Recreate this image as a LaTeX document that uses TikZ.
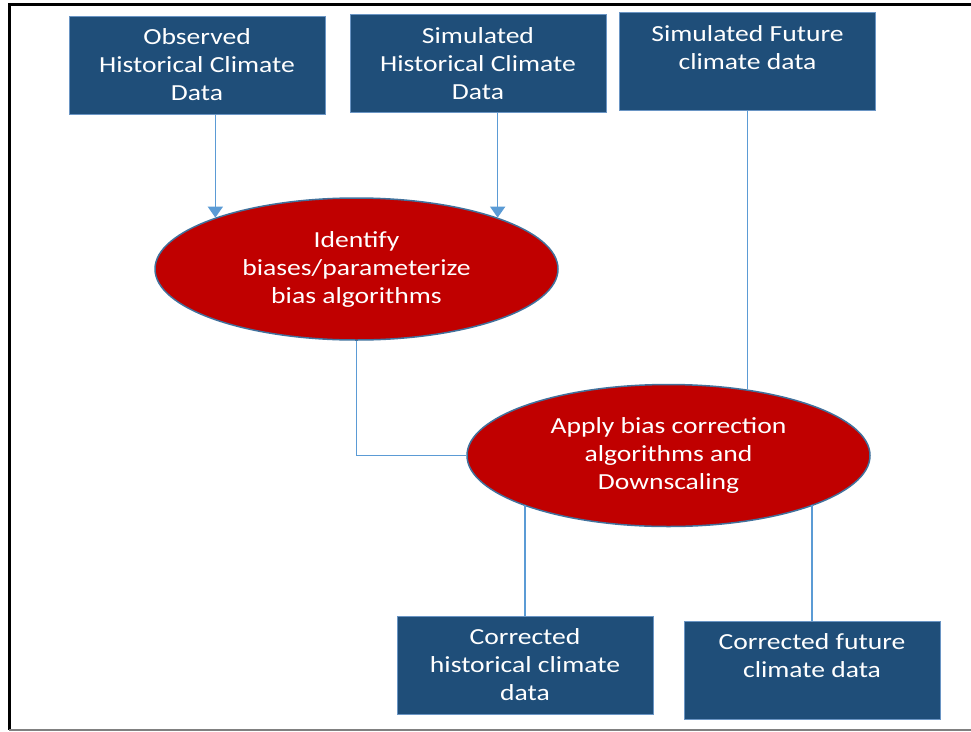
\documentclass[tikz,border=0pt]{standalone}
\usepackage{fontspec}
\setmainfont{Carlito}[FakeStretch=1.2]
\usetikzlibrary{shapes.geometric,arrows.meta}
\definecolor{boxblue}{HTML}{1F4E79}
\definecolor{boxedge}{HTML}{6A95C4}
\definecolor{blobred}{HTML}{C00000}
\definecolor{blobedge}{HTML}{41719C}
\definecolor{linkblue}{HTML}{5B9BD5}
\begin{document}
\begin{tikzpicture}[x=1pt,y=-1pt,font=\fontsize{23}{28}\selectfont,
    box/.style={rectangle,fill=boxblue,draw=boxedge,line width=1pt,minimum width=256pt,minimum height=98pt,inner sep=0pt,text=white,align=center,execute at begin node=\rule{0pt}{27pt}},
    blob/.style={ellipse,fill=blobred,draw=blobedge,line width=1.5pt,minimum width=403pt,minimum height=142pt,inner sep=0pt,text=white,align=center},
    link/.style={draw=linkblue,line width=1.6pt},
    tip/.style={-{Triangle[width=15pt,length=11pt]}}]
    \useasboundingbox (0,0) rectangle (971,731);
    % frame
    \draw[line width=3pt] (971,4) -- (9,4) -- (9,730);
    \draw[gray,line width=2pt] (9,730) -- (971,730);
    % inputs
    \node[box] (obs) at (197,65) {Observed\\Historical Climate\\Data};
    \node[box] (simhist) at (478,63.5) {Simulated\\Historical Climate\\Data};
    \node[box] (simfut) at (747.5,61.5) {Simulated Future\\climate data\\\mbox{}};
    % processing
    \node[blob] (ident) at (356.5,269) {Identify\\biases/parameterize\\bias algorithms};
    \node[blob] (apply) at (668.5,455.5) {Apply bias correction\\algorithms and\\Downscaling};
    % outputs
    \node[box] (corrhist) at (525,665) {Corrected\\historical climate\\data};
    \node[box] (corrfut) at (812,670) {Corrected future\\climate data\\\mbox{}};
    \path
      (ident.160 |- obs.south) edge [link,tip] (ident.160)
      (ident.20 |- simhist.south) edge [link,tip] (ident.20)
      (simfut.south) edge [link] (simfut.south |- apply.40)
      (corrhist.north) edge [link] (corrhist.north |- apply.199)
      (corrfut.north) edge [link] (corrfut.north |- apply.-19);
    \draw[link] (ident.south) |- (apply.west);
\end{tikzpicture}
\end{document}
